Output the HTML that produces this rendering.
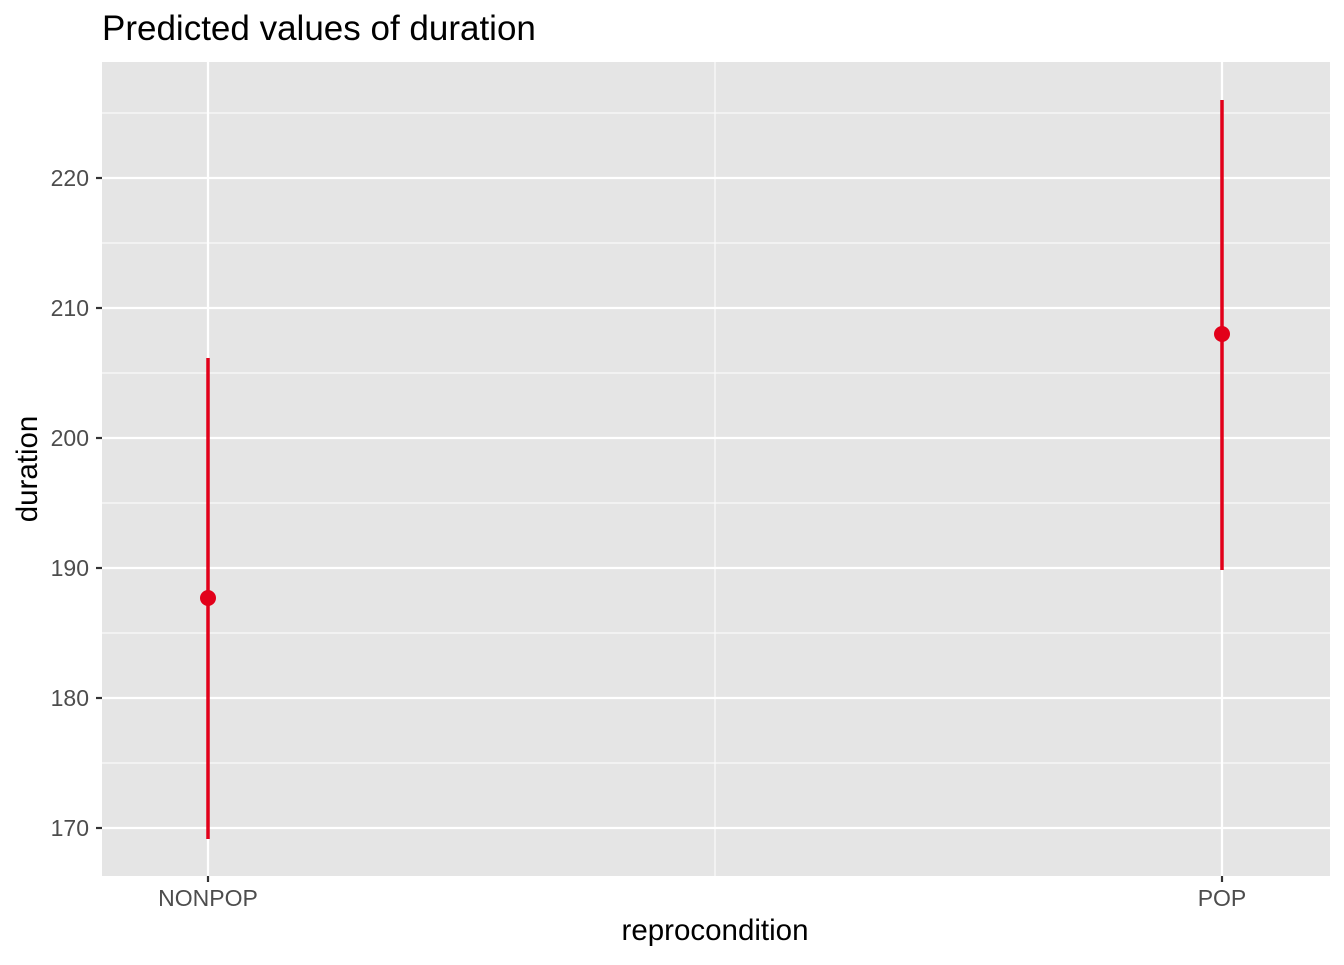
<!DOCTYPE html>
<html><head><meta charset="utf-8"><style>html,body{margin:0;padding:0;background:#fff}</style></head>
<body>
<svg width="1344" height="960" xmlns="http://www.w3.org/2000/svg" font-family="Liberation Sans, Arial, sans-serif">
<rect width="1344" height="960" fill="#fff"/>
<rect x="102" y="62" width="1228" height="814" fill="#e5e5e5"/>
<g stroke="#fafafa" stroke-width="1.2">
<line x1="102" x2="1330" y1="113" y2="113"/><line x1="102" x2="1330" y1="243" y2="243"/>
<line x1="102" x2="1330" y1="373" y2="373"/><line x1="102" x2="1330" y1="503" y2="503"/>
<line x1="102" x2="1330" y1="633" y2="633"/><line x1="102" x2="1330" y1="763" y2="763"/>
<line x1="715" x2="715" y1="62" y2="876"/>
</g>
<g stroke="#fff" stroke-width="2.2">
<line x1="102" x2="1330" y1="178" y2="178"/><line x1="102" x2="1330" y1="308" y2="308"/>
<line x1="102" x2="1330" y1="438" y2="438"/><line x1="102" x2="1330" y1="568" y2="568"/>
<line x1="102" x2="1330" y1="698" y2="698"/><line x1="102" x2="1330" y1="828" y2="828"/>
<line x1="208" x2="208" y1="62" y2="876"/><line x1="1222" x2="1222" y1="62" y2="876"/>
</g>
<g stroke="#e2001a" stroke-width="3.5">
<line x1="208" x2="208" y1="358" y2="839"/>
<line x1="1222" x2="1222" y1="100" y2="570"/>
</g>
<circle cx="208" cy="598" r="8" fill="#e2001a"/>
<circle cx="1222" cy="334" r="8" fill="#e2001a"/>
<g stroke="#333" stroke-width="2.2">
<line x1="96" x2="102" y1="178" y2="178"/><line x1="96" x2="102" y1="308" y2="308"/>
<line x1="96" x2="102" y1="438" y2="438"/><line x1="96" x2="102" y1="568" y2="568"/>
<line x1="96" x2="102" y1="698" y2="698"/><line x1="96" x2="102" y1="828" y2="828"/>
<line x1="208" x2="208" y1="876" y2="882"/><line x1="1222" x2="1222" y1="876" y2="882"/>
</g>
<g fill="#4d4d4d" font-size="23" text-anchor="end">
<text x="89" y="186">220</text><text x="89" y="316">210</text><text x="89" y="446">200</text>
<text x="89" y="576">190</text><text x="89" y="706">180</text><text x="89" y="836">170</text>
</g>
<g fill="#4d4d4d" font-size="23" text-anchor="middle">
<text x="208" y="906">NONPOP</text><text x="1222" y="906">POP</text>
</g>
<text x="715" y="940" font-size="29.5" text-anchor="middle" fill="#000">reprocondition</text>
<text transform="translate(37,469) rotate(-90)" font-size="29.5" text-anchor="middle" fill="#000">duration</text>
<text x="102" y="40" font-size="35" fill="#000">Predicted values of duration</text>
</svg>
</body></html>
